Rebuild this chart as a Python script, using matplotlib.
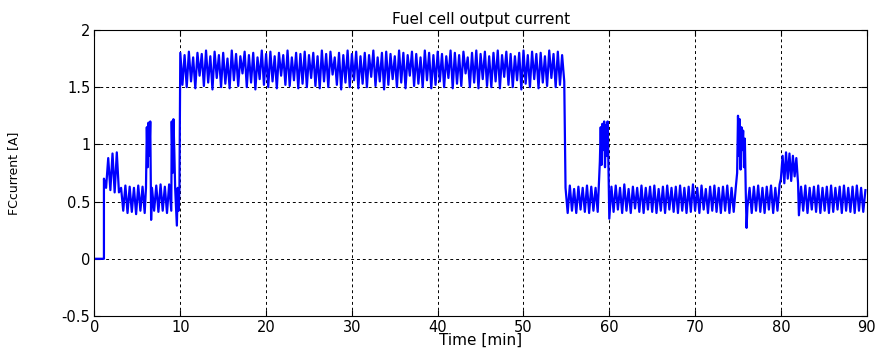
import numpy as np
import matplotlib.pyplot as plt

plt.rcParams['axes.unicode_minus'] = False

# segments: (start time [min], step [min], current values [A])
seg_off = (0.0, 1.1, [0.0, 0.0])
seg_start = (1.1, 0.25, [0.70, 0.62, 0.88, 0.60, 0.92, 0.58, 0.93, 0.58])
seg_low1 = (3.1, 0.25, [0.62, 0.42, 0.64, 0.40, 0.63, 0.41, 0.62, 0.39, 0.64, 0.42, 0.63, 0.40])
seg_peak1 = (6.0, 0.1, [0.62, 1.15, 0.80, 1.19, 0.90, 1.20, 0.34])
seg_low2 = (6.7, 0.25, [0.62, 0.42, 0.64, 0.41, 0.65, 0.42, 0.63, 0.40, 0.65, 0.42])
seg_peak2 = (9.0, 0.1, [1.20, 0.75, 1.22, 0.95, 0.62, 0.45, 0.29, 0.62, 0.42, 0.60])
seg_high = (10.0, 0.25, [
    1.80, 1.52, 1.78, 1.50, 1.81, 1.55, 1.76, 1.49, 1.80, 1.60, 1.79, 1.51, 1.82, 1.54, 1.77, 1.48, 1.81, 1.58, 1.78, 1.50,
    1.80, 1.53, 1.75, 1.49, 1.82, 1.56, 1.79, 1.51, 1.77, 1.62, 1.81, 1.50, 1.78, 1.54, 1.80, 1.48, 1.76, 1.57, 1.82, 1.52,
    1.79, 1.50, 1.81, 1.55, 1.77, 1.49, 1.80, 1.60, 1.78, 1.52, 1.82, 1.51, 1.76, 1.56, 1.80, 1.49, 1.79, 1.53, 1.81, 1.50,
    1.78, 1.58, 1.80, 1.51, 1.77, 1.49, 1.82, 1.55, 1.79, 1.50, 1.81, 1.61, 1.76, 1.52, 1.80, 1.48, 1.78, 1.54, 1.82, 1.50,
    1.79, 1.56, 1.81, 1.49, 1.77, 1.53, 1.80, 1.50, 1.78, 1.59, 1.82, 1.51, 1.76, 1.55, 1.80, 1.48, 1.81, 1.52, 1.79, 1.57,
    1.77, 1.50, 1.82, 1.54, 1.80, 1.49, 1.78, 1.60, 1.81, 1.51, 1.79, 1.53, 1.76, 1.50, 1.82, 1.56, 1.80, 1.49, 1.78, 1.52,
    1.81, 1.55, 1.79, 1.50, 1.77, 1.58, 1.82, 1.49, 1.80, 1.53, 1.78, 1.51, 1.81, 1.62, 1.76, 1.50, 1.80, 1.54, 1.82, 1.49,
    1.79, 1.57, 1.81, 1.51, 1.77, 1.50, 1.80, 1.55, 1.82, 1.49, 1.78, 1.59, 1.81, 1.52, 1.79, 1.50, 1.77, 1.56, 1.80, 1.48,
    1.82, 1.53, 1.78, 1.50, 1.81, 1.57, 1.79, 1.49, 1.80, 1.54, 1.77, 1.51, 1.82, 1.58, 1.79, 1.50, 1.81, 1.52, 1.78, 1.55])
seg_low3 = (54.9, 0.25, [0.62, 0.40, 0.64, 0.42, 0.61, 0.40, 0.63, 0.43, 0.62, 0.41, 0.64, 0.40, 0.63, 0.42, 0.62, 0.41])
seg_peak3 = (58.9, 0.1, [0.85, 1.15, 0.82, 1.18, 0.95, 1.20, 0.80, 1.17, 0.90, 1.20, 0.82])
seg_low4 = (60.0, 0.25, [
    0.35, 0.63, 0.41, 0.64, 0.43, 0.62, 0.40, 0.65, 0.42, 0.61, 0.40, 0.63, 0.44, 0.62, 0.41, 0.64, 0.40, 0.62, 0.43, 0.63,
    0.41, 0.64, 0.40, 0.61, 0.42, 0.63, 0.40, 0.64, 0.43, 0.62, 0.41, 0.63, 0.40, 0.64, 0.42, 0.62, 0.40, 0.63, 0.41, 0.65,
    0.42, 0.62, 0.40, 0.64, 0.43, 0.61, 0.40, 0.63, 0.42, 0.64, 0.41, 0.62, 0.40, 0.63, 0.42, 0.64, 0.40, 0.62, 0.41, 0.63])
seg_peak4 = (74.9, 0.1, [0.75, 1.25, 0.90, 1.22, 0.78, 1.15, 0.95, 1.12, 0.80, 1.05, 0.60, 0.27])
seg_low5 = (76.1, 0.25, [0.45, 0.62, 0.40, 0.63, 0.42, 0.64, 0.41, 0.62, 0.40, 0.63, 0.43, 0.64, 0.40, 0.62, 0.42, 0.65])
seg_mid = (80.0, 0.2, [0.70, 0.90, 0.66, 0.93, 0.70, 0.92, 0.68, 0.90, 0.72, 0.88, 0.66])
seg_low6 = (82.1, 0.25, [
    0.38, 0.63, 0.42, 0.64, 0.40, 0.62, 0.43, 0.63, 0.41, 0.64, 0.40, 0.62, 0.42, 0.63, 0.40, 0.64,
    0.41, 0.62, 0.43, 0.63, 0.40, 0.64, 0.42, 0.62, 0.41, 0.63, 0.40, 0.64, 0.42, 0.62, 0.41, 0.60])

segments = [seg_off, seg_start, seg_low1, seg_peak1, seg_low2, seg_peak2, seg_high,
            seg_low3, seg_peak3, seg_low4, seg_peak4, seg_low5, seg_mid, seg_low6]

t_all, i_all = [], []
for start, step, vals in segments:
    t_all.extend(start + step * np.arange(len(vals)))
    i_all.extend(vals)

fig = plt.figure(figsize=(8.79, 3.48), dpi=100)
ax = fig.add_axes([0.1075, 0.092, 0.8785, 0.822])

ax.plot(t_all, i_all, color='#0000ff', lw=1.6)

ax.set_xlim(0, 90)
ax.set_ylim(-0.5, 2)
ax.set_xticks(np.arange(0, 91, 10))
ax.set_yticks([-0.5, 0, 0.5, 1, 1.5, 2])
ax.set_yticklabels(['-0.5', '0', '0.5', '1', '1.5', '2'])
ax.grid(True, color='black', linestyle=(0, (3, 3)), lw=0.7)
ax.tick_params(direction='in', top=True, right=True, labelsize=10.5, length=4, pad=3)
for s in ax.spines.values():
    s.set_linewidth(0.8)

ax.set_title('Fuel cell output current', fontsize=11, pad=4)
ax.set_xlabel('Time [min]', fontsize=11)
ax.xaxis.set_label_coords(0.5, -0.058)
ax.set_ylabel('FCcurrent [A]', fontsize=9)
ax.yaxis.set_label_coords(-0.097, 0.5)

fig.savefig('out.png', dpi=100)
